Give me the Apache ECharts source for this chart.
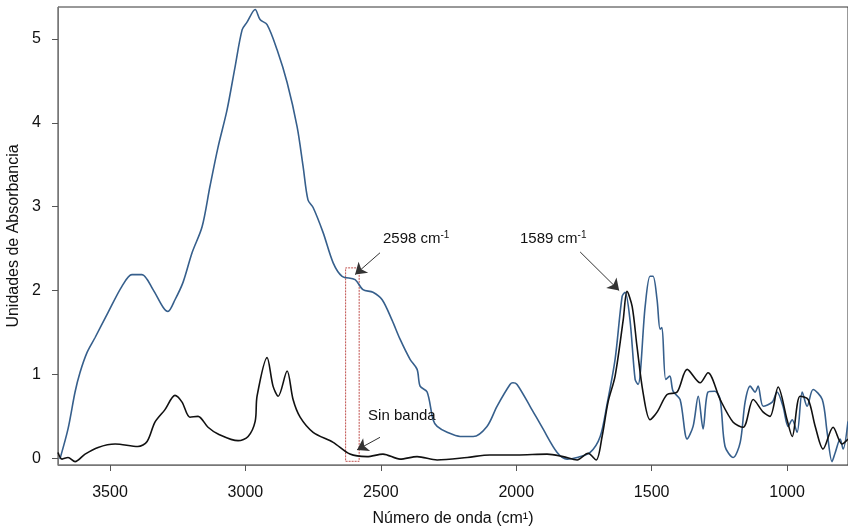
<!DOCTYPE html>
<html>
    <head>
        <meta charset="utf-8" />
        <script src="https://cdn.jsdelivr.net/npm/echarts@6/dist/echarts.min.js"></script>
        <style>
            html,
            body {
                margin: 0;
                padding: 0;
                background: #fff;
            }
            #main {
                width: 848px;
                height: 526px;
            }
        </style>
    </head>
    <body>
        <div id="main"></div>
        <script>
            // wavenumber (cm-1) / absorbance
            var blueX = [3685, 3655, 3629, 3611, 3585, 3555, 3507, 3456, 3419, 3382, 3341, 3304, 3286, 3260, 3230, 3197, 3160, 3131, 3101, 3068, 3038, 3012, 2994, 2964, 2946, 2920, 2883, 2846, 2809, 2787, 2769, 2750, 2713, 2676, 2643, 2595, 2566, 2529, 2495, 2459, 2429, 2392, 2366, 2355, 2329, 2307, 2292, 2255, 2207, 2159, 2108, 2071, 2023, 2012, 1997, 1949, 1901, 1849, 1812, 1775, 1727, 1690, 1665, 1635, 1609, 1598, 1580, 1561, 1550, 1524, 1506, 1495, 1480, 1469, 1462, 1448, 1433, 1421, 1395, 1369, 1347, 1328, 1310, 1292, 1266, 1247, 1229, 1199, 1173, 1155, 1136, 1118, 1107, 1088, 1055, 1037, 1015, 996, 981, 963, 944, 926, 904, 870, 852, 834, 822, 804, 793, 775];
            var blueY = [-0.01, 0.35, 0.79, 1.02, 1.26, 1.44, 1.74, 2.05, 2.19, 2.19, 2.01, 1.80, 1.75, 1.89, 2.10, 2.45, 2.76, 3.24, 3.71, 4.15, 4.67, 5.11, 5.20, 5.35, 5.23, 5.17, 4.87, 4.48, 3.95, 3.48, 3.08, 2.99, 2.69, 2.33, 2.17, 2.13, 2.01, 1.98, 1.89, 1.65, 1.42, 1.18, 1.06, 0.86, 0.79, 0.46, 0.38, 0.31, 0.26, 0.26, 0.38, 0.62, 0.88, 0.90, 0.88, 0.62, 0.35, 0.07, -0.01, 0.01, 0.07, 0.26, 0.64, 1.18, 1.93, 1.98, 1.65, 0.94, 0.88, 1.81, 2.17, 2.17, 1.89, 1.54, 1.56, 0.94, 0.98, 0.80, 0.70, 0.23, 0.38, 0.74, 0.35, 0.79, 0.80, 0.70, 0.14, 0.01, 0.19, 0.67, 0.86, 0.79, 0.86, 0.62, 0.67, 0.79, 0.62, 0.38, 0.46, 0.31, 0.79, 0.62, 0.82, 0.70, 0.31, -0.04, 0.07, 0.23, 0.11, 0.44];
            var blackX = [3692, 3677, 3655, 3629, 3592, 3544, 3481, 3397, 3363, 3334, 3297, 3260, 3234, 3205, 3175, 3138, 3101, 3027, 2990, 2964, 2957, 2920, 2898, 2879, 2846, 2824, 2798, 2750, 2676, 2614, 2551, 2492, 2429, 2366, 2292, 2181, 2097, 1997, 1886, 1827, 1775, 1735, 1705, 1683, 1661, 1635, 1605, 1591, 1572, 1554, 1532, 1506, 1480, 1443, 1406, 1369, 1321, 1292, 1247, 1199, 1162, 1125, 1088, 1063, 1033, 1000, 981, 952, 922, 896, 867, 830, 797, 775];
            var blackY = [0.07, -0.01, 0.01, -0.04, 0.05, 0.13, 0.17, 0.14, 0.20, 0.43, 0.58, 0.75, 0.67, 0.49, 0.50, 0.37, 0.29, 0.21, 0.26, 0.44, 0.74, 1.20, 0.86, 0.74, 1.04, 0.70, 0.49, 0.31, 0.19, 0.05, 0.02, 0.05, -0.01, 0.02, -0.02, 0.01, 0.04, 0.04, 0.05, 0.02, -0.02, 0.06, -0.02, 0.26, 0.67, 0.98, 1.65, 1.99, 1.81, 1.33, 0.79, 0.46, 0.55, 0.76, 0.79, 1.06, 0.90, 1.02, 0.70, 0.43, 0.37, 0.70, 0.55, 0.50, 0.85, 0.46, 0.26, 0.74, 0.70, 0.38, 0.11, 0.37, 0.17, 0.23];
            var xTicks = [1000, 1500, 2000, 2500, 3000, 3500];
            var yTicks = [0, 1, 2, 3, 4, 5];

            function pairs(xs, ys) {
                var out = [];
                for (var i = 0; i < xs.length; i++) {
                    out.push([xs[i], ys[i]]);
                }
                return out;
            }

            var chart = echarts.init(document.getElementById("main"));
            var font = "Liberation Sans, Arial, sans-serif";

            function note(x, y, main, sup) {
                return {
                    coord: [x, y],
                    symbol: "circle",
                    symbolSize: 0,
                    label: {
                        show: true,
                        position: "right",
                        distance: 0,
                        formatter: sup ? "{a|" + main + "}{s|" + sup + "}" : "{a|" + main + "}",
                        rich: {
                            a: { fontSize: 15, color: "#111", fontFamily: font },
                            s: { fontSize: 10, color: "#111", fontFamily: font, padding: [0, 0, 9, 0] },
                        },
                    },
                };
            }

            function arrow(x1, y1, x2, y2) {
                return [{ coord: [x1, y1] }, { coord: [x2, y2] }];
            }

            chart.setOption({
                animation: false,
                grid: {
                    left: 58,
                    right: 0,
                    top: 7,
                    bottom: 61,
                    outerBoundsMode: "none",
                    show: true,
                    borderColor: "#333",
                    borderWidth: 1,
                },
                xAxis: {
                    type: "value",
                    inverse: true,
                    min: 775,
                    max: 3692,
                    name: "Número de onda (cm¹)",
                    nameLocation: "middle",
                    nameGap: 46,
                    nameTextStyle: { fontSize: 16, color: "#111", fontFamily: font },
                    splitLine: { show: false },
                    axisLine: { onZero: false, lineStyle: { color: "#777" } },
                    axisTick: { show: true, length: 6, customValues: xTicks, lineStyle: { color: "#555" } },
                    axisLabel: {
                        customValues: xTicks,
                        fontSize: 16,
                        color: "#111",
                        fontFamily: font,
                        margin: 20,
                        formatter: function (v) { return String(v); },
                    },
                },
                yAxis: {
                    type: "value",
                    min: -0.08,
                    max: 5.38,
                    name: "Unidades de Absorbancia",
                    nameLocation: "middle",
                    nameGap: 34,
                    nameTextStyle: { fontSize: 16, color: "#111", fontFamily: font },
                    splitLine: { show: false },
                    axisLine: { show: true, onZero: false, lineStyle: { color: "#777" } },
                    axisTick: { show: true, length: 6, customValues: yTicks, lineStyle: { color: "#555" } },
                    axisLabel: {
                        customValues: yTicks,
                        fontSize: 16,
                        color: "#111",
                        fontFamily: font,
                        margin: 17,
                        formatter: function (v) { return String(v); },
                    },
                },
                series: [
                    {
                        name: "blue",
                        type: "line",
                        data: pairs(blueX, blueY),
                        showSymbol: false,
                        smooth: 0.3,
                        lineStyle: { color: "#365f8c", width: 1.6 },
                        markArea: {
                            silent: true,
                            itemStyle: {
                                color: "rgba(0,0,0,0)",
                                borderColor: "#c0504d",
                                borderWidth: 1,
                                borderType: [2, 1],
                            },
                            data: [[{ coord: [2630, -0.036] }, { coord: [2580, 2.27] }]],
                        },
                    },
                    {
                        name: "black",
                        type: "line",
                        data: pairs(blackX, blackY),
                        showSymbol: false,
                        smooth: 0.3,
                        lineStyle: { color: "#111", width: 1.6 },
                        markLine: {
                            silent: true,
                            symbol: ["none", "arrow"],
                            symbolSize: 11,
                            label: { show: false },
                            lineStyle: { color: "#333", width: 1, type: "solid" },
                            data: [
                                arrow(2503, 2.45, 2595, 2.19),
                                arrow(1764, 2.46, 1620, 2.0),
                                arrow(2503, 0.25, 2588, 0.1),
                            ],
                        },
                        markPoint: {
                            silent: true,
                            data: [
                                note(2492, 2.61, "2598 cm", "-1"),
                                note(1986, 2.61, "1589 cm", "-1"),
                                note(2547, 0.5, "Sin banda"),
                            ],
                        },
                    },
                ],
            });
        </script>
    </body>
</html>
